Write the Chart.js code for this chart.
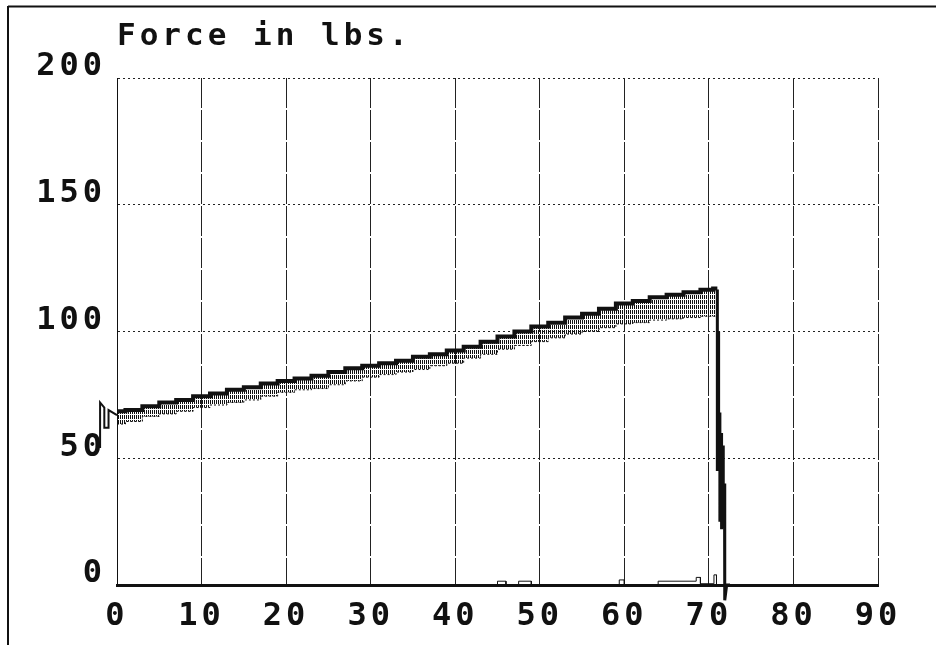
<!DOCTYPE html>
<html>
<head>
<meta charset="utf-8">
<title>Force in lbs.</title>
<script src="https://cdn.jsdelivr.net/npm/chart.js@4"></script>
<style>
  html, body { margin: 0; padding: 0; background: #fff; }
  #wrap { position: relative; width: 936px; height: 645px; }
</style>
</head>
<body>
<div id="wrap"><canvas id="forceChart" width="936" height="645"></canvas></div>
<script>
// x positions of the force band (sampled every 2 units)
const bandX = [0, 2, 4, 6, 8, 10, 12, 14, 16, 18, 20, 22, 24, 26, 28, 30, 32, 34,
  36, 38, 40, 42, 44, 46, 48, 50, 52, 54, 56, 58, 60, 62, 64, 66, 68, 70, 71];
// top of the noisy band (lbs)
const upperForce = [68.5, 69, 70.5, 72, 73, 74.5, 75.5, 77, 78, 79.5, 80.5, 81.5, 82.5,
  84, 85.5, 86.5, 87.5, 88.5, 90, 91, 92.5, 94, 96, 98, 100, 102, 103.5, 105.5, 107,
  109, 111, 112, 113.5, 114.5, 115.5, 116.5, 117];
// bottom of the hatching (lbs)
const lowerForce = [63.5, 64.5, 66.5, 67.5, 68.5, 70, 71, 72, 73, 74.5, 76, 77, 77.5,
  79, 80.5, 82, 83, 84, 85, 86.5, 87.5, 89.5, 91, 93, 94.5, 96, 97.5, 99, 100, 101.5,
  103, 103.5, 104.5, 105, 105.5, 106, 106];

// start spike left of 0 (listed right-to-left so the library keeps every point)
const spikeX = [0, -1, -1, -1.5, -1.5, -2, -2];
const spikeY = [67, 69, 62, 62, 70, 72, 54];

// break: force falls away after ~71
const dropX = [70.8, 71.0, 71.0, 71.15, 71.15, 71.3, 71.3, 71.5, 71.5, 71.7, 71.7, 71.85, 71.85, 71.9, 72.1, 72.5];
const dropY = [116, 116, 45, 100, 50, 68, 25, 60, 22, 55, 28, 40, 0, -6, 0, 0];

// little blips sitting on the zero line
const blipX = [45, 45, 46, 46, 47.5, 47.5, 49, 49, 59.4, 59.4, 60, 60, 64, 64, 68.5, 68.5, 69, 69, 70.6, 70.6, 70.9, 70.9];
const blipY = [0, 1.5, 1.5, 0, 0, 1.5, 1.5, 0, 0, 2, 2, 0, 0, 1.5, 1.5, 3, 3, 0.5, 0.5, 4, 4, 0];

const xTicks = [0, 10, 20, 30, 40, 50, 60, 70, 80, 90];
const yTicks = [0, 50, 100, 150, 200];

const INK = '#111';
const FONT = "'DejaVu Sans Mono', 'Liberation Mono', monospace";
const SPACING = '4px';

function toPoints(xs, ys) {
  return xs.map((x, i) => ({ x, y: ys[i] }));
}

// vertical hatch used between the two envelopes
function makeHatch(ctx) {
  const c = document.createElement('canvas');
  c.width = 2;
  c.height = 5;
  const g = c.getContext('2d');
  g.fillStyle = INK;
  g.fillRect(0, 0, 1, 4);
  return ctx.createPattern(c, 'repeat');
}

// wide spaced bitmap-like text; canvas state is reset on resize so set it twice
const spacingPlugin = {
  id: 'spacing',
  beforeUpdate(chart) { chart.ctx.letterSpacing = SPACING; },
  beforeDraw(chart) { chart.ctx.letterSpacing = SPACING; }
};

// outer frame round the printout (left + top edges only)
const framePlugin = {
  id: 'frame',
  afterDraw(chart) {
    const ctx = chart.ctx;
    ctx.save();
    ctx.strokeStyle = INK;
    ctx.lineWidth = 2;
    ctx.beginPath();
    ctx.moveTo(8, 6);
    ctx.lineTo(8, 645);
    ctx.moveTo(8, 6.5);
    ctx.lineTo(936, 6.5);
    ctx.stroke();
    ctx.restore();
  }
};

const canvas = document.getElementById('forceChart');
const ctx = canvas.getContext('2d');

new Chart(ctx, {
  type: 'line',
  data: {
    datasets: [
      {
        label: 'lower',
        data: toPoints(bandX, lowerForce),
        borderColor: INK,
        borderWidth: 1,
        borderDash: [2, 2],
        stepped: 'middle',
        pointRadius: 0,
        fill: false
      },
      {
        label: 'upper',
        data: toPoints(bandX, upperForce),
        borderColor: INK,
        borderWidth: 4,
        stepped: 'middle',
        pointRadius: 0,
        backgroundColor: makeHatch(ctx),
        fill: '-1'
      },
      {
        label: 'spike',
        data: toPoints(spikeX, spikeY),
        borderColor: INK,
        borderWidth: 2,
        pointRadius: 0,
        fill: false,
        clip: false
      },
      {
        label: 'drop',
        data: toPoints(dropX, dropY),
        borderColor: INK,
        borderWidth: 3,
        pointRadius: 0,
        fill: false,
        clip: false
      },
      {
        label: 'blips',
        data: toPoints(blipX, blipY),
        borderColor: INK,
        borderWidth: 1,
        pointRadius: 0,
        fill: false
      }
    ]
  },
  options: {
    responsive: false,
    animation: false,
    events: [],
    layout: { padding: { top: 18, right: 58, bottom: 0, left: 0 } },
    plugins: {
      legend: { display: false },
      tooltip: { enabled: false },
      title: {
        display: true,
        text: 'Force in lbs.',
        align: 'start',
        fullSize: false,
        color: INK,
        font: { family: FONT, size: 31, weight: 'bold' },
        padding: { top: 0, bottom: 22.8 }
      }
    },
    scales: {
      x: {
        type: 'linear',
        min: 0,
        max: 90,
        afterFit(scale) { scale.height = 60; },
        afterBuildTicks(scale) { scale.ticks = xTicks.map(v => ({ value: v })); },
        grid: { color: '#222', lineWidth: 1, drawTicks: false },
        border: { display: true, color: INK, width: 3, dash: [30, 2] },
        ticks: {
          color: INK,
          padding: 12,
          maxRotation: 0,
          autoSkip: false,
          font: { family: FONT, size: 32, weight: 'bold' }
        }
      },
      y: {
        min: 0,
        max: 200,
        afterFit(scale) { scale.width = 117; },
        afterBuildTicks(scale) { scale.ticks = yTicks.map(v => ({ value: v })); },
        grid: { color: '#222', lineWidth: 1, drawTicks: false },
        border: { display: true, color: INK, width: 1, dash: [2, 3] },
        ticks: {
          color: INK,
          padding: 11,
          labelOffset: -11,
          autoSkip: false,
          font: { family: FONT, size: 32, weight: 'bold' }
        }
      }
    }
  },
  plugins: [spacingPlugin, framePlugin]
});
</script>
</body>
</html>
